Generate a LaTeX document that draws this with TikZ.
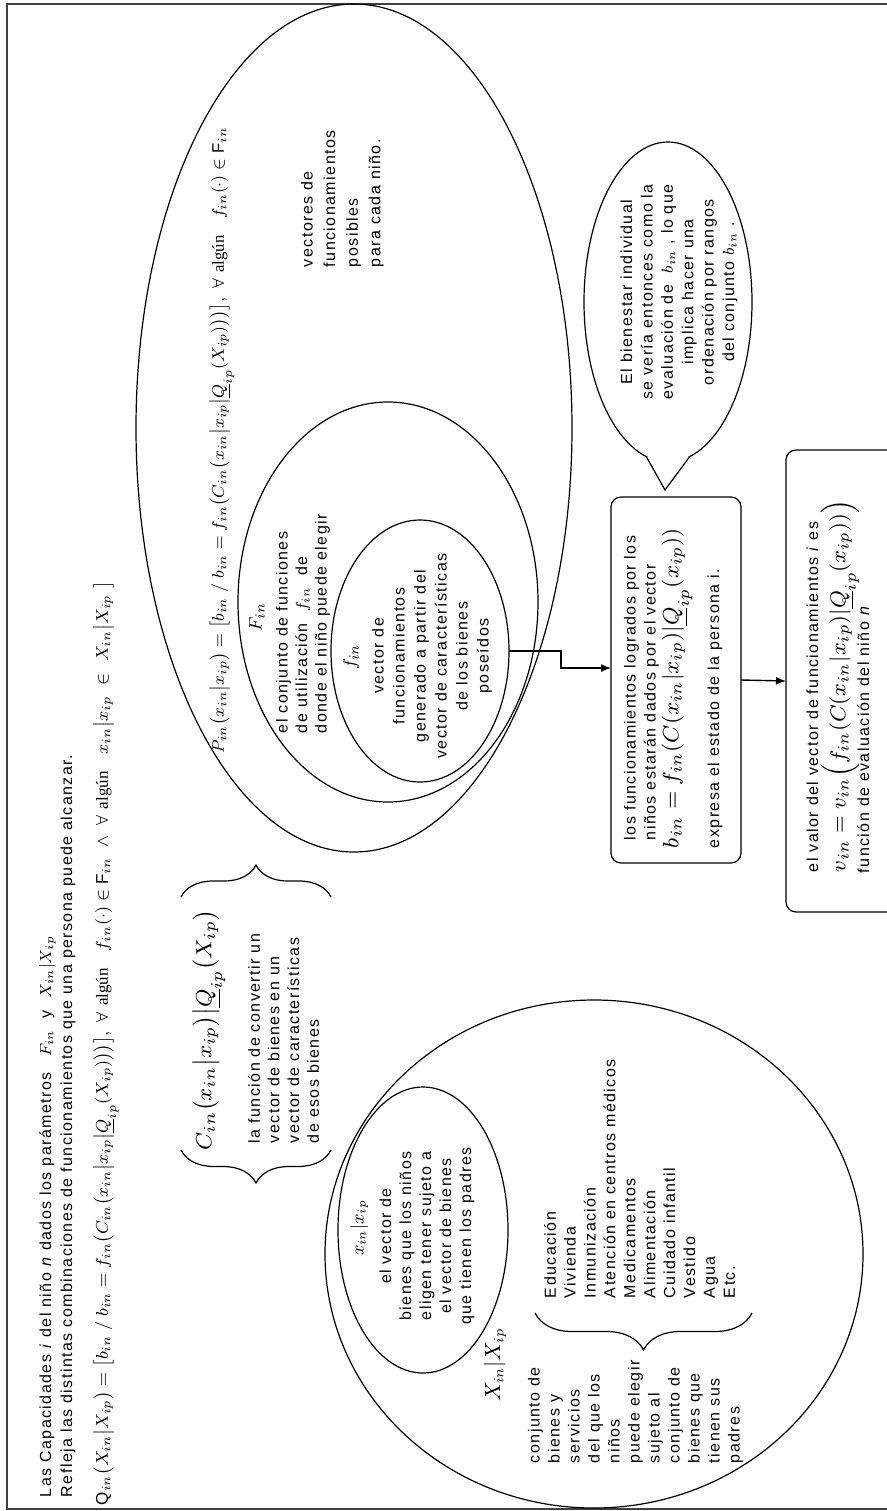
\documentclass[tikz,border=0pt]{standalone}
\usepackage{fontspec}
\setmainfont{Liberation Sans}[LetterSpace=9]
\newfontfamily\tms{Liberation Serif}
\usepackage{amsmath}
\usetikzlibrary{shapes.geometric,decorations.pathreplacing,arrows.meta}
\begin{document}
\begin{tikzpicture}[x=0.5pt,y=-0.5pt, line width=0.6pt,
 every node/.style={font=\fontsize{8}{10}\selectfont, inner sep=0pt, outer sep=0pt},
 ell/.style={draw, ellipse, inner sep=0pt},
 rt/.style={rotate=90},
 rbox/.style={draw, rounded corners=5pt, rectangle},
 brc/.style={decorate, decoration={brace, amplitude=#1}},
 arr/.style={-{Latex[length=5pt,width=4pt]}, line width=0.7pt}]
\useasboundingbox (0,0) rectangle (887,1511);
\draw[line width=1pt, black!75] (7,4) rectangle (895,1509);
% ellipses
\node[ell, minimum width=218pt, minimum height=424pt] (Fbig) at (354,428) {};
\node[ell, minimum width=150pt, minimum height=200pt] (Fmid) at (388,602) {};
\node[ell, minimum width=89pt, minimum height=131pt] (Fin) at (420,651) {};
\node[ell, minimum width=84pt, minimum height=160pt] (bub) at (668,302) {};
\node[ell, minimum width=269pt, minimum height=254pt] (Xbig) at (594,1254) {};
\node[ell, minimum width=85pt, minimum height=143pt] (Xin) at (423,1230) {};
% boxes
\node[rbox, minimum width=65pt, minimum height=183pt] (box1) at (676,680) {};
\node[rbox, minimum width=59.5pt, minimum height=231pt] (box2) at (845.5,681) {};
% bubble tail
\coordinate (tip) at (665,490);
\fill[white] (bub.-98) -- (tip) -- (bub.-82) -- cycle;
\draw (bub.-98) -- (tip) -- (bub.-82);
% title
\node[rt, anchor=base west] (t1) at (51,1497) {Las Capacidades \textit{i} del niño \textit{n} dados los parámetros\quad $F_{in}$\ \ y\ \ $X_{in}|X_{ip}$};
\node[rt, anchor=base west] (t2) at (72,1497) {Refleja las distintas combinaciones de funcionamientos que una persona puede alcanzar.};
\node[rt, anchor=west] (t3) at (106,1505) {\resizebox{462pt}{!}{$\mathrm{Q}_{in}\bigl(X_{in}\big|X_{ip}\bigr)=\bigl[b_{in}\;/\;b_{in}=f_{in}\bigl(C_{in}\bigl(x_{in}\big|x_{ip}\big|\underline{Q}_{ip}(X_{ip})\bigr)\bigr)\bigr],\ \forall\ \mbox{\tms algún}\quad f_{in}(\cdot)\in\mathrm{F}_{in}\ \wedge\ \forall\ \mbox{\tms algún}\quad x_{in}\big|x_{ip}\ \in\ X_{in}\big|X_{ip}\ \bigr]$}};
% P formula
\node[rt, anchor=west] (P) at (222,753) {\resizebox{313pt}{!}{$P_{in}\bigl(x_{in}\big|x_{ip}\bigr)=\bigl[b_{in}\;/\;b_{in}=f_{in}\bigl(C_{in}\bigl(x_{in}\big|x_{ip}\big|\underline{Q}_{ip}(X_{ip})\bigr)\bigr)\bigr],\ \forall\ \mbox{\tms algún}\quad f_{in}(\cdot)\in\mathrm{F}_{in}$}};
\node[rt, anchor=north west, align=left, font=\fontsize{8}{11.3}\selectfont] (vec) at (301,267) {vectores de\\funcionamientos\\posibles\\para cada niño.};
% middle ellipse
\node[rt, font=\fontsize{9.5}{10}\selectfont] (Fl) at (257,617) {$F_{in}$};
\node[rt, anchor=north west, align=left, font=\fontsize{8}{9.75}\selectfont] (Ft) at (276,733) {el conjunto de funciones\\de utilización\ \ $f_{in}$\ \ de\\donde el niño puede elegir};
% inner ellipse
\node[rt, font=\fontsize{9.5}{10}\selectfont] (fl) at (351,657) {$f_{in}$};
\node[rt, align=center, font=\fontsize{8}{10.5}\selectfont] (ft) at (432,656) {vector de\\funcionamientos\\generado a partir del\\vector de características\\de los bienes\\poseídos};
% bubble text
\node[rt, align=center, font=\fontsize{8}{10.2}\selectfont] (bt) at (679,292) {El bienestar individual\\se vería entonces como la\\evaluación de\ \ $b_{in}$\ , lo que\\implica hacer una\\ordenación por rangos\\del conjunto $b_{in}$ .};
% box 1
\node[rt, anchor=north west, align=left] (b1a) at (624,840) {los funcionamientos logrados por los\\niños estarán dados por el vector};
\node[rt, anchor=west] (b1f) at (677,848) {\resizebox{160pt}{!}{$b_{in}=f_{in}(C(x_{in}|x_{ip})|\underline{Q}_{ip}(x_{ip}))$}};
\node[rt, anchor=base west] (b1c) at (719,848) {expresa el estado de la persona i.};
% box 2
\node[rt, anchor=base west] (b2a) at (818,872) {el valor del vector de funcionamientos \textit{i} es};
\node[rt, anchor=west] (b2f) at (840,872) {\resizebox{186pt}{!}{$v_{in}=v_{in}\Bigl(f_{in}(C(x_{in}|x_{ip})|\underline{Q}_{ip}(x_{ip}))\Bigr)$}};
\node[rt, anchor=base west] (b2c) at (869,873) {función de evaluación del niño \textit{n}};
% C_in
\node[rt, anchor=west] (Cf) at (209,1150) {\resizebox{120pt}{!}{$C_{in}\bigl(x_{in}\big|x_{ip}\bigr)\big|\underline{Q}_{ip}\bigl(X_{ip}\bigr)$}};
\node[rt, anchor=north west, align=left, font=\fontsize{8}{9.85}\selectfont] (Ct) at (248,1143) {la función de convertir un\\vector de bienes en un\\vector de características\\de esos bienes};
\draw[brc=16pt] (181,897) -- (331,897);
\draw[brc=16.5pt] (331,1150) -- (181,1150);
% X ellipses
\node[rt, font=\fontsize{9}{10}\selectfont] (xl) at (359,1228) {$x_{in}|x_{ip}$};
\node[rt, align=center] (xt) at (427,1236) {el vector de\\bienes que los niños\\eligen tener sujeto a\\el vector de bienes\\que tienen los padres};
\node[rt, font=\fontsize{10.5}{10}\selectfont] (Xl) at (495,1365) {$X_{in}|X_{ip}$};
\node[rt, anchor=north west, align=left, font=\fontsize{8}{9.95}\selectfont] (edu) at (544,1298) {Educación\\Vivienda\\Inmunización\\Atención en centros médicos\\Medicamentos\\Alimentación\\Cuidado infantil\\Vestido\\Agua\\Etc.};
\node[rt, anchor=north west, align=left] (conj) at (528,1463) {conjunto de\\bienes y\\servicios\\del que los\\niños\\puede elegir\\sujeto al\\conjunto de\\bienes que\\tienen sus\\padres};
\draw[brc=18.5pt] (752,1313) -- (535,1313);
% arrows
\draw[arr] (Fin.east) -- ++(52,0) |- ([yshift=6pt]box1.west);
\draw[arr] (box1.east) -- (box2.west);
\end{tikzpicture}
\end{document}
